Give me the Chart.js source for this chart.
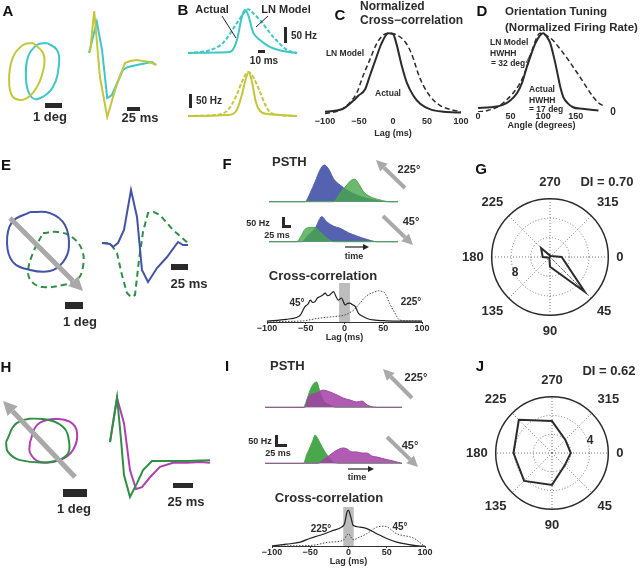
<!DOCTYPE html>
<html lang="en">
<head>
<meta charset="UTF-8">
<title>LN model vs actual responses</title>
<script src="https://cdn.jsdelivr.net/npm/chart.js@4.4.1/dist/chart.umd.min.js"></script>
<style>
  body { margin: 0; background: #fff; }
  #fig { position: relative; width: 640px; height: 571px; overflow: hidden;
         font-family: "Liberation Sans", Arial, sans-serif; color: #2b2b2b; }
  #fig canvas { position: absolute; }
  .t { position: absolute; white-space: nowrap; font-weight: bold; line-height: 1;
       transform: translate(-50%, -50%); }
  .bar { position: absolute; background: #2a2a2a; }
  svg { position: absolute; left: 0; top: 0; }
</style>
</head>
<body>
<div id="fig"></div>
<script>
// ---------- data: A (RF contours in deg, kernels in ms / normalized) ----------
const aRfYellowX = [1.65, 2.24, 2.29, 1.88, 1.18, 0.47, 0.24, 0.47, 1.06, 1.65];
const aRfYellowY = [3.65, 3.06, 2.24, 1.06, 0.35, 0.47, 1.47, 2.82, 3.53, 3.65];
const aRfCyanX = [2.47, 3.06, 3.18, 2.82, 1.94, 1.47, 1.24, 1.35, 1.88, 2.47];
const aRfCyanY = [3.65, 3.24, 2.47, 1.06, 0.35, 0.59, 1.47, 2.82, 3.53, 3.65];
const aKerYellowT = [2, 10, 21, 35, 50, 60, 69, 79, 92, 104, 117, 129];
const aKerYellow = [0.2, 1.02, -0.3, -1.1, -0.56, -0.26, -0.02, 0.02, 0.04, 0.02, 0, -0.06];
const aKerCyanT = [0, 15, 25, 35, 44, 54, 65, 75, 92, 111, 121, 129];
const aKerCyan = [0.18, 0.8, 0.24, -0.72, -0.66, -0.42, -0.16, -0.1, -0.06, -0.02, 0, -0.06];

// ---------- data: B (PSTH, ms / Hz) ----------
const bTopActualT = [0, 46, 60, 70, 77, 81.5, 86, 93, 103, 117, 136, 156];
const bTopActual = [0, 1.6, 3.1, 40, 112, 133, 118, 65, 40, 19, 6, 0];
const bTopModelT = [0, 17, 31.5, 50, 70, 80, 86, 93, 103, 122, 142, 156];
const bTopModel = [0, 3, 9, 31, 93, 124, 136, 124, 102, 50, 9, 0];
const bBotActualT = [0, 57, 69, 77, 83, 87, 91.5, 97, 103, 114, 132, 156];
const bBotActual = [0, 3.5, 17.5, 73.5, 133, 154, 119, 49, 17.5, 7, 3.5, 0];
const bBotModelT = [0, 39, 57, 69, 77, 86, 94, 103, 110, 117, 132, 156];
const bBotModel = [0, 3.5, 21, 70, 119, 154, 133, 84, 42, 14, 3.5, 0];

// ---------- data: C (normalized cross-correlation) ----------
const cLagActual = [-100, -73, -58, -51, -41, -34, -24, -17, -7, 0, 5, 13, 20, 30, 40, 55, 75, 100];
const cActual = [0.02, 0.06, 0.16, 0.22, 0.3, 0.47, 0.71, 0.87, 1.0, 0.99, 0.87, 0.59, 0.39, 0.22, 0.12, 0.05, 0.02, 0.01];
const cLagModel = [-100, -78, -63, -53, -44, -34, -24, -14, -7, 5, 18, 27, 40, 54, 69, 89, 100];
const cModel = [0, 0.04, 0.14, 0.26, 0.47, 0.67, 0.87, 0.98, 1.0, 0.98, 0.89, 0.75, 0.43, 0.22, 0.1, 0.04, 0.02];
const cTicks = [-100, 100, 50];

// ---------- data: D (orientation tuning) ----------
const dAngleActual = [0, 20, 38, 50, 60, 68, 75, 82, 88, 95, 100, 106, 111, 117, 122, 126, 131, 138, 146, 160, 185];
const dActual = [0.05, 0.06, 0.09, 0.15, 0.24, 0.38, 0.57, 0.74, 0.87, 0.97, 1.0, 0.95, 0.87, 0.68, 0.49, 0.33, 0.19, 0.11, 0.06, 0.04, 0.02];
const dAngleModel = [0, 15, 29, 42, 54, 62, 69, 76, 83, 89, 95, 103, 115, 126, 137, 147, 157, 167, 177, 186, 195];
const dModel = [0, 0.02, 0.06, 0.14, 0.24, 0.33, 0.44, 0.6, 0.78, 0.92, 1.0, 0.98, 0.91, 0.8, 0.68, 0.56, 0.44, 0.31, 0.19, 0.11, 0.07];

// ---------- data: E ----------
const eRfBlueX = [1.67, 2.78, 3.61, 3.83, 3.5, 2.78, 1.67, 0.72, 0.39, 0.67, 1.67];
const eRfBlueY = [4.89, 4.83, 4.17, 2.94, 2.11, 1.61, 1.67, 2.11, 3.17, 4.33, 4.89];
const eRfGreenX = [2.39, 3.22, 4.0, 4.56, 4.61, 4.28, 3.5, 2.39, 1.78, 1.56, 1.83, 2.39];
const eRfGreenY = [3.72, 3.78, 3.5, 2.78, 1.83, 1.11, 0.83, 0.72, 1.0, 1.56, 2.61, 3.72];
const eKerBlueT = [2.9, 14.7, 19.1, 26.5, 35.3, 45.6, 54.4, 61.7, 70.6, 83.8, 98.5, 114.7, 122, 129.4];
const eKerBlue = [0.04, 0.02, -0.04, 0.04, 0.3, 1.1, 0.56, -0.5, -0.74, -0.46, -0.24, 0.06, 0, 0];
const eKerGreenT = [2.9, 14.7, 25, 32.3, 39.7, 45.6, 51.5, 57.3, 63.2, 70.6, 79.4, 88.2, 107.3, 129.4];
const eKerGreen = [0.04, 0.04, -0.16, -0.6, -0.96, -1.04, -1.0, -0.3, 0.26, 0.64, 0.66, 0.6, 0.3, 0.04];

// ---------- data: F (PSTH ms / Hz, cross-correlation) ----------
const f225BlueT = [0, 112, 118, 128, 144, 159, 172, 185, 201, 222, 243, 274, 305, 347, 368, 403];
const f225Blue = [0, 0, 8, 38, 91, 144, 167, 152, 106, 76, 53, 30, 15, 3, 0, 0];
const f225GreenT = [0, 201, 222, 243, 258, 269, 279, 295, 316, 347, 378, 403];
const f225Green = [0, 0, 38, 76, 99, 102, 84, 46, 23, 8, 0, 0];
const f45BlueT = [0, 102, 123, 144, 165, 180, 201, 222, 248, 274, 305, 337, 403];
const f45Blue = [0, 0, 30, 61, 114, 91, 71, 61, 41, 26, 11, 0, 0];
const f45GreenT = [0, 86, 102, 112, 128, 144, 154, 170, 185, 201, 403];
const f45Green = [0, 0, 30, 56, 65, 65, 53, 30, 11, 0, 0];
const fLag45 = [-100, -75, -62, -57, -51, -47, -44, -41, -38, -35, -32, -28, -25, -22, -19, -16, -14, -11, -8, -4, 1, 4, 7, 10, 14, 18, 24, 30, 37, 54, 75, 100];
const fCc45 = [0.03, 0.09, 0.15, 0.23, 0.51, 0.6, 0.73, 0.65, 0.68, 0.8, 0.84, 0.9, 0.96, 0.88, 0.9, 0.98, 1.01, 0.85, 0.73, 0.8, 0.57, 0.62, 0.63, 0.58, 0.51, 0.29, 0.18, 0.11, 0.07, 0.04, 0.03, 0.03];
const fLag225 = [-100, -75, -53, -32, -14, 0, 6, 12, 20, 27, 33, 37, 44, 48, 52, 58, 65, 71, 80, 100];
const fCc225 = [0, 0.02, 0.04, 0.13, 0.18, 0.23, 0.3, 0.4, 0.63, 0.84, 0.94, 0.98, 1.04, 1.02, 0.97, 0.63, 0.3, 0.07, 0.04, 0.03];
const fBandLag = [-7, 7];

// ---------- data: G, J (direction tuning, spikes) ----------
const dirLabels = ['270', '315', '0', '45', '90', '135', '180', '225'];
const gRate = [0.3, 0.3, 2.4, 10.1, 2.0, 0.2, 1.5, 2.6];
const gVector = [0, 0, 0, 10.1, 0, 0, 0, 0];
const jRate = [3.4, 2.0, 2.0, 1.9, 3.4, 4.2, 4.1, 5.0];

// ---------- data: H ----------
const hRfGreenX = [0.25, 0.71, 1.79, 2.63, 2.88, 2.79, 2.08, 0.83, 0.33, 0.25];
const hRfGreenY = [1.58, 2.38, 2.54, 2.21, 1.58, 1.04, 0.75, 0.83, 1.17, 1.58];
const hRfMagX = [1.25, 1.54, 2.21, 2.92, 3.21, 3.04, 2.5, 1.67, 1.25, 1.25];
const hRfMagY = [1.58, 2.29, 2.54, 2.42, 1.96, 1.25, 0.83, 0.75, 1.13, 1.58];
const hKerGreenT = [2.5, 11.3, 16.3, 20, 27.5, 36.3, 43.8, 55, 68.8, 98.8, 127.5];
const hKerGreen = [0.42, 1.42, 0.47, -0.31, -0.8, -0.49, -0.2, 0, 0, 0, 0.02];
const hKerMagT = [2.5, 11.3, 20, 27.5, 35, 42.5, 52.5, 65, 81.3, 98.8, 115, 127.5];
const hKerMag = [0.42, 1.4, 0.84, -0.2, -0.62, -0.58, -0.36, -0.13, -0.04, -0.04, -0.02, -0.04];

// ---------- data: I ----------
const i225GreenT = [0, 120, 130, 141, 151, 161, 172, 182, 203, 222, 428];
const i225Green = [0, 0, 31, 74, 100, 109, 66, 31, 10, 0, 0];
const i225MagT = [0, 125, 135, 150, 162, 181, 203, 225, 244, 266, 287, 303, 319, 350, 428];
const i225Mag = [0, 0, 44, 57, 62, 74, 66, 53, 40, 31, 23, 27, 10, 0, 0];
const i45GreenT = [0, 120, 130, 141, 150, 156, 166, 172, 184, 194, 213, 228, 428];
const i45Green = [0, 0, 36, 70, 100, 122, 104, 87, 57, 36, 6, 0, 0];
const i45MagT = [0, 166, 181, 203, 225, 244, 256, 272, 287, 303, 319, 334, 350, 375, 400, 428];
const i45Mag = [0, 0, 14, 36, 57, 66, 62, 49, 49, 44, 44, 31, 27, 18, 10, 0];
const iLag225 = [-100, -81, -63, -50, -37, -20, -9, -5, -2, 0, 3, 6, 15, 24, 37, 50, 63, 76, 94, 100];
const iCc225 = [0, 0.06, 0.13, 0.26, 0.36, 0.52, 0.63, 0.76, 1.13, 1.19, 0.97, 0.69, 0.63, 0.58, 0.41, 0.25, 0.13, 0.06, 0, 0];
const iLag45 = [-100, -49, -24, -7, -2, 0, 3, 6, 15, 24, 37, 47, 63, 86, 98];
const iCc45 = [0, 0.02, 0.13, 0.19, 0.36, 0.41, 0.3, 0.21, 0.3, 0.41, 0.63, 0.66, 0.41, 0.25, 0.02];
const iBandLag = [-7, 7];

// ---------- helpers ----------
Chart.defaults.font.family = '"Liberation Sans", Arial, sans-serif';
Chart.defaults.color = '#2b2b2b';

const fig = document.getElementById('fig');
const yellow = '#c4c63c', cyan = '#3fc6c8';
const blue = '#4453a6', dgreen = '#2f8f44', magenta = '#b03fb0';

function box(left, top, w, h) {
  const c = document.createElement('canvas');
  c.width = w; c.height = h;
  c.style.left = left + 'px'; c.style.top = top + 'px';
  c.style.width = w + 'px'; c.style.height = h + 'px';
  fig.appendChild(c);
  return c;
}
function pts(xs, ys) { return xs.map((x, i) => ({ x: x, y: ys[i] })); }
function curve(xs, ys, color, extra) {
  return Object.assign({ data: pts(xs, ys), borderColor: color, borderWidth: 2,
    pointRadius: 0, tension: 0, fill: false }, extra || {});
}
function area(xs, ys, color, fillColor) {
  return curve(xs, ys, color, { borderWidth: 1, fill: 'origin', backgroundColor: fillColor,
    cubicInterpolationMode: 'monotone' });
}
const noPlug = { legend: { display: false }, tooltip: { enabled: false } };

// chart with hidden axes: the whole canvas is the plot area
function sketch(canvas, datasets, xr, yr) {
  return new Chart(canvas, {
    type: 'line',
    data: { datasets: datasets },
    options: {
      responsive: false, animation: false, events: [], devicePixelRatio: 1,
      layout: { padding: 0 }, plugins: noPlug,
      scales: {
        x: { type: 'linear', display: false, min: xr[0], max: xr[1] },
        y: { type: 'linear', display: false, min: yr[0], max: yr[1] }
      }
    }
  });
}

// chart with a bottom axis only
function axisChart(canvas, datasets, o) {
  return new Chart(canvas, {
    type: 'line',
    data: { datasets: datasets },
    options: {
      responsive: false, animation: false, events: [], devicePixelRatio: 1,
      layout: { padding: o.pad }, plugins: noPlug,
      scales: {
        x: {
          type: 'linear', min: o.xr[0], max: o.xr[1],
          ticks: { stepSize: o.step, includeBounds: false, autoSkip: false, maxRotation: 0,
                   padding: o.tickPad, color: '#2b2b2b',
                   font: { size: o.font, weight: 'bold', lineHeight: 1 },
                   callback: v => String(v).replace('-', '\u2212') },
          grid: { display: o.tickLen > 0, drawOnChartArea: false, drawTicks: o.tickLen > 0,
                  tickLength: o.tickLen, color: '#333' },
          border: { display: o.tickLen > 0, color: '#333' },
          title: { display: true, text: 'Lag (ms)', color: '#2b2b2b', padding: { top: o.titlePad, bottom: 0 },
                   font: { size: o.font, weight: 'bold', lineHeight: 1 } }
        },
        y: { type: 'linear', display: false, min: o.yr[0], max: o.yr[1] }
      }
    }
  });
}

function polar(canvas, values, vector, rMax, step) {
  const outer = rMax / step;
  const sets = [{ data: values, borderColor: '#2b2b2b', borderWidth: 2, pointRadius: 0, fill: false }];
  if (vector) sets.push({ data: vector, borderColor: '#666', borderWidth: 0.8, borderDash: [2, 2], pointRadius: 0, fill: false });
  return new Chart(canvas, {
    type: 'radar',
    data: { labels: dirLabels, datasets: sets },
    options: {
      responsive: false, animation: false, events: [], devicePixelRatio: 1, plugins: noPlug,
      scales: {
        r: {
          min: 0, max: rMax,
          ticks: { display: false, stepSize: step },
          grid: { circular: true, color: c => c.index === outer ? '#2b2b2b' : '#777',
                  lineWidth: c => c.index === outer ? 1.5 : 1 },
          border: { dash: c => c.index === outer ? [] : [1, 2] },
          angleLines: { color: '#777', lineWidth: 1, borderDash: [1, 2] },
          pointLabels: { padding: 8, color: '#2b2b2b', font: { size: 13, weight: 'bold' } }
        }
      }
    }
  });
}

// ---------- A ----------
sketch(box(0, 35, 70, 70), [
  curve(aRfYellowX, aRfYellowY, yellow, { tension: 0.4 }),
  curve(aRfCyanX, aRfCyanY, cyan, { tension: 0.4 })
], [-0.294, 3.824], [0, 4.118]);
sketch(box(85, 8, 75, 112), [
  curve(aKerYellowT, aKerYellow, yellow),
  curve(aKerCyanT, aKerCyan, cyan)
], [-7.7, 136.3], [-1.16, 1.08]);

// ---------- B ----------
sketch(box(185, 5, 115, 50), [
  curve(bTopActualT, bTopActual, cyan, { cubicInterpolationMode: 'monotone' }),
  curve(bTopModelT, bTopModel, cyan, { borderDash: [4, 2], cubicInterpolationMode: 'monotone' })
], [-4.3, 160.2], [-6.2, 148.8]);
sketch(box(185, 68, 115, 50), [
  curve(bBotActualT, bBotActual, yellow, { cubicInterpolationMode: 'monotone' }),
  curve(bBotModelT, bBotModel, yellow, { borderDash: [4, 2], cubicInterpolationMode: 'monotone' })
], [-4.3, 160.2], [-7, 168]);

// ---------- C ----------
axisChart(box(310, 28, 165, 110), [
  curve(cLagActual, cActual, '#2b2b2b', { cubicInterpolationMode: 'monotone' }),
  curve(cLagModel, cModel, '#2b2b2b', { borderWidth: 1.5, borderDash: [5, 3], cubicInterpolationMode: 'monotone' })
], { pad: { left: 15, right: 14, top: 2, bottom: 0 }, xr: [cTicks[0], cTicks[1]], step: cTicks[2],
     yr: [-0.02, 1.04], font: 9, tickPad: 2, tickLen: 0, titlePad: 1 });

// ---------- D ----------
const dChart = axisChart(box(465, 28, 150, 102), [
  curve(dAngleActual, dActual, '#2b2b2b', { cubicInterpolationMode: 'monotone' }),
  curve(dAngleModel, dModel, '#2b2b2b', { borderWidth: 1.5, borderDash: [5, 3], cubicInterpolationMode: 'monotone' })
], { pad: { left: 13, right: 10, top: 2, bottom: 0 }, xr: [0, 195], step: 50,
     yr: [0, 1.04], font: 9, tickPad: 0, tickLen: 0, titlePad: 0 });
dChart.options.scales.x.title.text = 'Angle (degrees)';
dChart.update();

// ---------- E ----------
sketch(box(0, 200, 95, 100), [
  curve(eRfBlueX, eRfBlueY, blue, { tension: 0.4 }),
  curve(eRfGreenX, eRfGreenY, dgreen, { tension: 0.4, borderDash: [6, 4] })
], [0, 5.28], [0, 5.56]);
sketch(box(98, 185, 95, 115), [
  curve(eKerBlueT, eKerBlue, blue),
  curve(eKerGreenT, eKerGreen, dgreen, { borderDash: [6, 4] })
], [-2.9, 136.7], [-1.1, 1.2]);

// ---------- F ----------
sketch(box(269, 160, 130, 43), [
  area(f225GreenT, f225Green, '#4aa84c', 'rgba(70,168,74,0.8)'),
  area(f225BlueT, f225Blue, '#5562b0', '#5562b0')
], [0, 406], [-5.9, 190]);
sketch(box(269, 205, 130, 38), [
  area(f45GreenT, f45Green, '#4aa84c', 'rgba(70,168,74,0.8)'),
  area(f45BlueT, f45Blue, '#5562b0', '#5562b0')
], [0, 406], [-5.9, 167]);
axisChart(box(240, 281, 210, 61), [
  curve(fLag45, fCc45, '#222', { borderWidth: 1.2, cubicInterpolationMode: 'monotone' }),
  curve(fLag225, fCc225, '#444', { borderWidth: 1, borderDash: [1.5, 1.5], cubicInterpolationMode: 'monotone' }),
  { data: pts(fBandLag, [1.3, 1.3]), borderWidth: 0, pointRadius: 0, fill: 'origin', backgroundColor: '#bdbdbd', order: 2 }
], { pad: { left: 27, right: 28, top: 2, bottom: 0 }, xr: [-100, 100], step: 50,
     yr: [0, 1.3], font: 9, tickPad: 0, tickLen: 2, titlePad: 0 });

// ---------- G ----------
polar(box(455, 169, 176, 176), gRate, gVector, 12, 4);

// ---------- H ----------
sketch(box(0, 410, 85, 70), [
  curve(hRfGreenX, hRfGreenY, dgreen, { tension: 0.4 }),
  curve(hRfMagX, hRfMagY, magenta, { tension: 0.4 })
], [0, 3.54], [0, 2.92]);
sketch(box(105, 390, 110, 112), [
  curve(hKerGreenT, hKerGreen, dgreen),
  curve(hKerMagT, hKerMag, magenta)
], [-3.75, 133.75], [-0.91, 1.58]);

// ---------- I ----------
sketch(box(265, 372, 138, 37), [
  area(i225MagT, i225Mag, '#9a4a9c', 'rgba(165,62,168,0.85)'),
  area(i225GreenT, i225Green, '#4aa84c', '#4aa84c')
], [0, 431], [-7.3, 152]);
sketch(box(265, 425, 138, 40), [
  area(i45MagT, i45Mag, '#9a4a9c', 'rgba(165,62,168,0.85)'),
  area(i45GreenT, i45Green, '#4aa84c', '#4aa84c')
], [0, 431], [-7.3, 165]);
axisChart(box(245, 505, 205, 61), [
  curve(iLag225, iCc225, '#222', { borderWidth: 1.2, cubicInterpolationMode: 'monotone' }),
  curve(iLag45, iCc45, '#444', { borderWidth: 1, borderDash: [1.5, 1.5], cubicInterpolationMode: 'monotone' }),
  { data: pts(iBandLag, [1.3, 1.3]), borderWidth: 0, pointRadius: 0, fill: 'origin', backgroundColor: '#bdbdbd', order: 2 }
], { pad: { left: 27, right: 25, top: 2, bottom: 0 }, xr: [-100, 100], step: 50,
     yr: [0, 1.3], font: 9, tickPad: 0, tickLen: 2, titlePad: 0 });

// ---------- J ----------
polar(box(459, 367, 172, 172), jRate, null, 6, 2);

// ---------- scale bars ----------
function bar(x, y, w, h) {
  const d = document.createElement('div');
  d.className = 'bar';
  Object.assign(d.style, { left: x + 'px', top: y + 'px', width: w + 'px', height: h + 'px' });
  fig.appendChild(d);
}
bar(45, 103, 17, 5); bar(127, 107, 13, 4);
bar(284, 27, 3, 16); bar(258, 50, 7, 3); bar(189, 94, 3, 14);
bar(65, 302, 18, 7); bar(171, 264, 17, 6);
bar(282, 217, 3, 11); bar(282, 225, 9, 3);
bar(63, 489, 24, 8); bar(173, 483, 20, 5);
bar(275, 435, 3, 12); bar(275, 444, 12, 3);

// ---------- arrows and pointer lines ----------
const NS = 'http://www.w3.org/2000/svg';
const svg = document.createElementNS(NS, 'svg');
svg.setAttribute('width', 640); svg.setAttribute('height', 571);
fig.appendChild(svg);
function el(name, attrs) {
  const e = document.createElementNS(NS, name);
  for (const k in attrs) e.setAttribute(k, attrs[k]);
  svg.appendChild(e);
}
function arrow(x1, y1, x2, y2, w, head, color) {
  const L = Math.hypot(x2 - x1, y2 - y1), ux = (x2 - x1) / L, uy = (y2 - y1) / L;
  const bx = x2 - ux * head, by = y2 - uy * head, hw = head * 0.5;
  el('line', { x1: x1, y1: y1, x2: bx, y2: by, stroke: color, 'stroke-width': w });
  el('polygon', { fill: color, points: [x2, y2, bx - uy * hw, by + ux * hw, bx + uy * hw, by - ux * hw].join(' ') });
}
const grey = '#a9a9a9';
arrow(10, 218, 83, 291, 5, 14, grey);
arrow(75, 477, 3, 401, 5, 14, grey);
arrow(405, 188, 376, 160, 4, 11, grey);
arrow(383, 216, 413, 245, 4, 11, grey);
arrow(412, 398, 383, 369, 4, 11, grey);
arrow(387, 437, 418, 467, 4, 11, grey);
arrow(345, 247, 369, 247, 1.2, 6, '#222');
arrow(348, 469, 374, 469, 1.2, 6, '#222');
el('line', { x1: 222, y1: 16, x2: 236, y2: 38, stroke: '#222', 'stroke-width': 1 });
el('line', { x1: 268, y1: 16, x2: 256, y2: 27, stroke: '#222', 'stroke-width': 1 });
el('line', { x1: 526, y1: 63, x2: 531, y2: 53, stroke: '#222', 'stroke-width': 0.8 });

// ---------- text ----------
function txt(s, x, y, size, extra) {
  const d = document.createElement('div');
  d.className = 't';
  d.textContent = s;
  Object.assign(d.style, { left: x + 'px', top: y + 'px', fontSize: size + 'px' }, extra || {});
  fig.appendChild(d);
}
const left = { transform: 'translate(0,-50%)' };
const black = { color: '#111' };
txt('A', 8, 10, 15, black); txt('B', 183, 9, 15, black); txt('C', 340, 14, 15, black);
txt('D', 482, 10, 15, black); txt('E', 6, 164, 15, black); txt('F', 227, 163, 15, black);
txt('G', 481, 168, 15, black); txt('H', 6, 366, 15, black); txt('I', 227, 365, 15, black);
txt('J', 480, 365, 15, black);

txt('1 deg', 50, 116, 13); txt('25 ms', 140, 117, 13);
txt('Actual', 212, 9, 11); txt('LN Model', 286, 9, 11);
txt('50 Hz', 304, 36, 10); txt('10 ms', 264, 61, 10); txt('50 Hz', 209, 101, 10);
txt('Normalized', 360, 6, 12, left); txt('Cross\u2212correlation', 360, 20, 12, left);
txt('LN Model', 345, 53, 8.5); txt('Actual', 388, 93, 8.5);
txt('Orientation Tuning', 505, 12, 11.5, left); txt('(Normalized Firing Rate)', 505, 28, 11.5, left);
txt('LN Model', 490, 42, 8.5, left); txt('HWHH', 490, 53, 8.5, left); txt('= 32 deg', 491, 63, 8.5, left);
txt('Actual', 529, 89, 8.5, left); txt('HWHH', 529, 100, 8.5, left); txt('= 17 deg', 529, 109, 8.5, left);
txt('0', 613, 112, 10);

txt('25 ms', 189, 283, 13); txt('1 deg', 80, 321, 13);
txt('PSTH', 272, 161, 13, left); txt('225\u00b0', 409, 169, 11); txt('45\u00b0', 411, 221, 11);
txt('50 Hz', 258, 223, 9); txt('25 ms', 277, 235, 9); txt('time', 354, 256, 9);
txt('Cross-correlation', 323, 275, 13); txt('45\u00b0', 297, 303, 10); txt('225\u00b0', 411, 302, 10);
txt('DI = 0.70', 607, 181, 13); txt('8', 515, 272, 12);

txt('1 deg', 74, 508, 13); txt('25 ms', 186, 501, 13);
txt('PSTH', 270, 365, 13, left); txt('225\u00b0', 416, 377, 11); txt('45\u00b0', 410, 445, 11);
txt('50 Hz', 260, 441, 9); txt('25 ms', 278, 453, 9); txt('time', 357, 477, 9);
txt('Cross-correlation', 329, 497, 13); txt('225\u00b0', 321, 529, 10); txt('45\u00b0', 400, 527, 10);
txt('DI = 0.62', 609, 370, 13); txt('4', 590, 440, 12);
</script>
</body>
</html>
